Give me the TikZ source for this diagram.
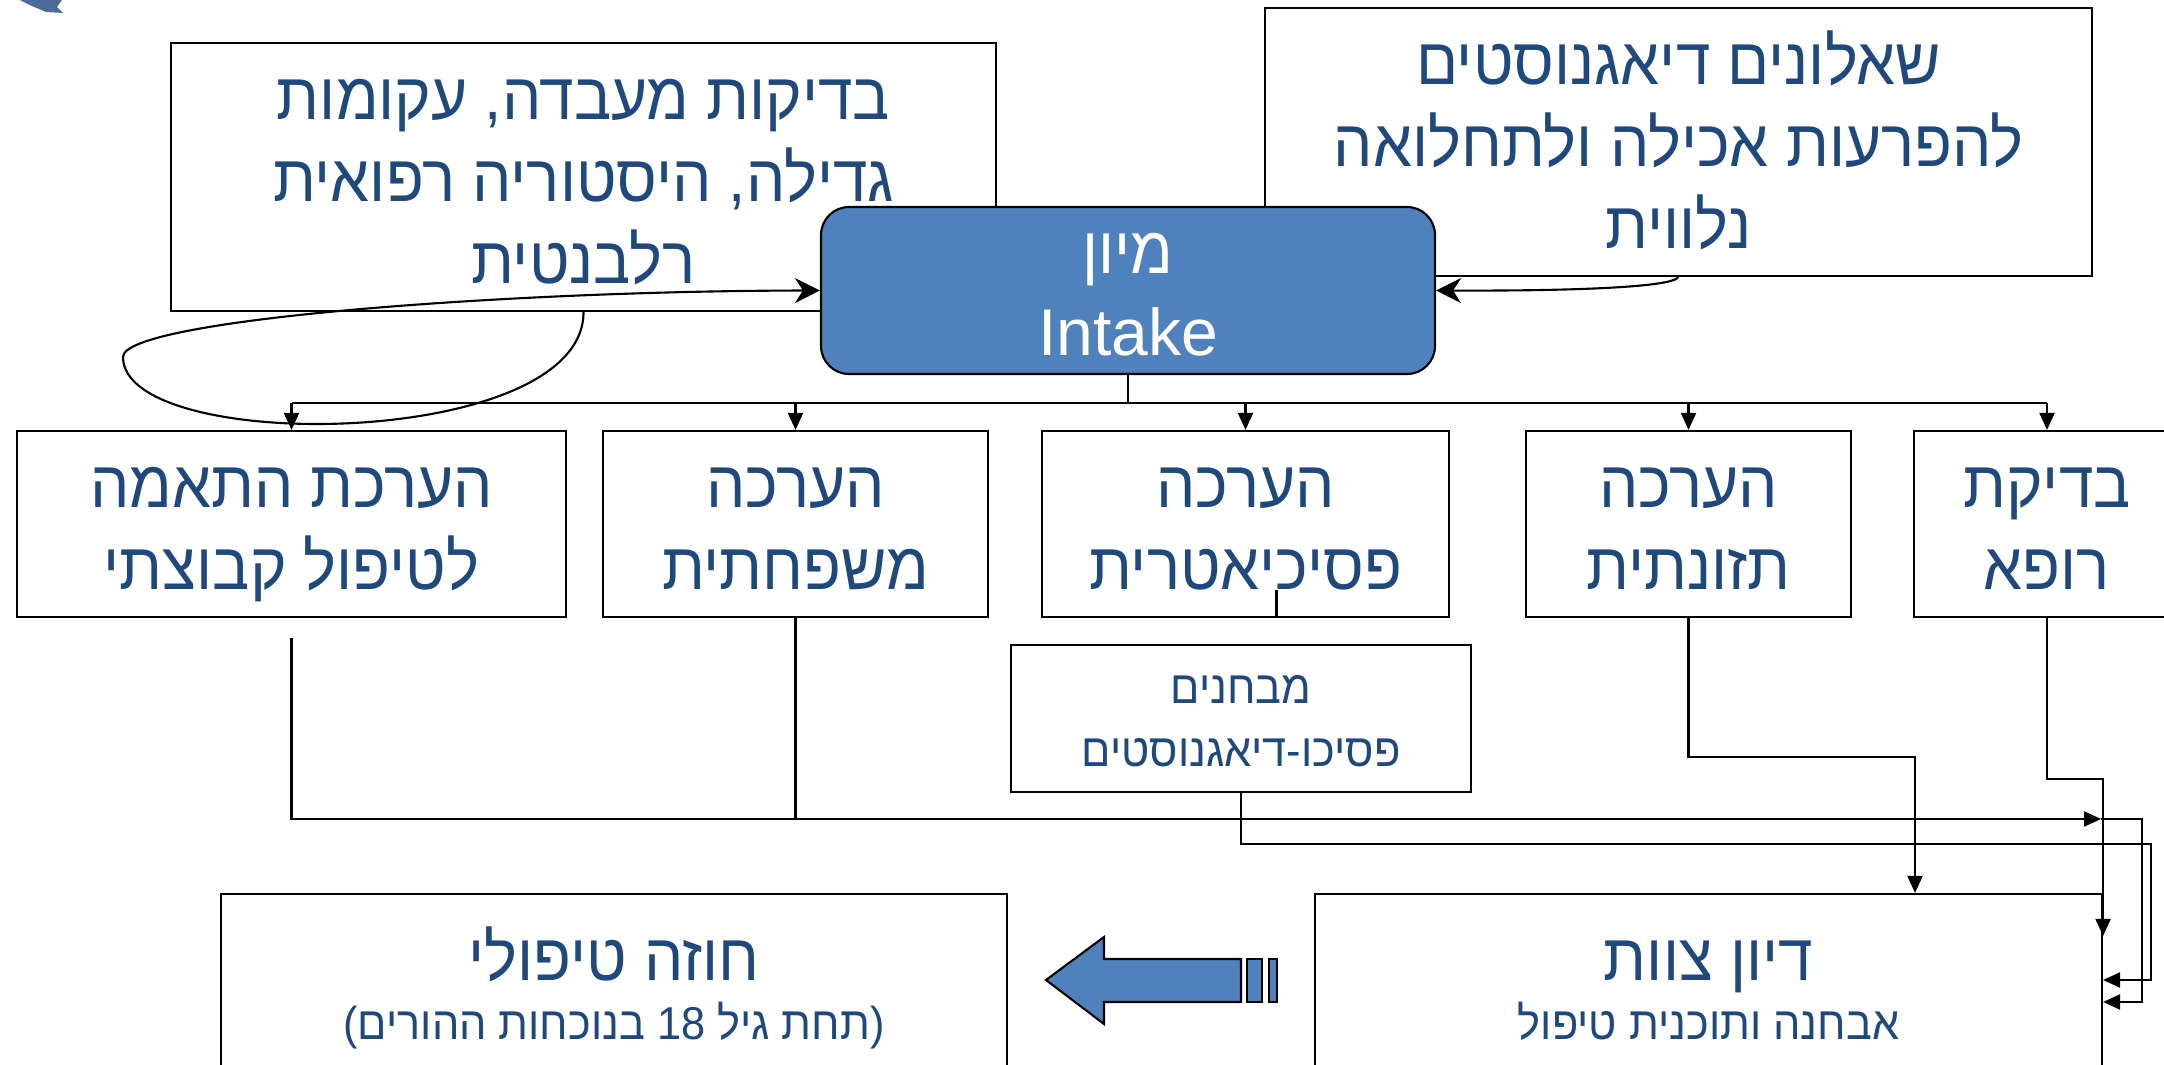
\documentclass[tikz,border=0pt]{standalone}
\usepackage{fontspec}
\setmainfont{Liberation Sans}
\newfontfamily\hebfont[Script=Hebrew,FakeStretch=0.94]{Liberation Sans}
\TeXXeTstate=1
\usetikzlibrary{arrows.meta}
\definecolor{hebblue}{RGB}{31,73,125}
\definecolor{fillblue}{RGB}{79,129,189}
\newcommand\hebline[1]{\raisebox{0pt}[0.73em][0pt]{\beginR #1\endR}}
\newcommand\bigfont{\hebfont\fontsize{18.8}{23.3}\selectfont}
\newcommand\smallfont{\hebfont\fontsize{13.1}{17.9}\selectfont}

\begin{document}
\begin{tikzpicture}[x=0.1mm, y=0.1mm, line width=0.6pt,
    >={Triangle[length=1.7mm,width=1.5mm]},
    box/.style={draw, fill=white, text=hebblue, align=center, inner sep=0pt, font=\bigfont},
    smallbox/.style={box, font=\smallfont},
    intakebox/.style={draw, fill=fillblue, text=white, align=center, inner sep=0pt,
      rounded corners=2.8mm, font=\bigfont},
    feed/.style={-{Stealth[length=2.5mm,width=2.5mm,inset=0.8mm]}}]
  \useasboundingbox (0,0) rectangle (2164,-1065);
  % logo fragment
  \fill[hebblue!80] (20,0) .. controls (30,-6) and (40,-9) .. (46,-12) -- (63,-13) -- (57,-7) -- (62,0) -- cycle;

  % sources of the intake
  \node[box, minimum width=82.5mm, minimum height=26.8mm] (lab) at (583.5,-177)
    {\hebline{בדיקות מעבדה, עקומות}\\\hebline{גדילה, היסטוריה רפואית}\\\hebline{רלבנטית}};
  \node[box, minimum width=82.7mm, minimum height=26.8mm] (quest) at (1678.5,-142)
    {\hebline{שאלונים דיאגנוסטים}\\\hebline{להפרעות אכילה ולתחלואה}\\\hebline{נלווית}};
  \node[intakebox, minimum width=61.4mm, minimum height=16.7mm] (intake) at (1128,-290.5)
    {\hebline{מיון}\\{\rmfamily Intake}};
  \coordinate (loop) at (123,-357);
  \draw[feed] (lab.south) .. controls (584,-450) and (123,-455) .. (loop)
    .. controls (123,-320) and (500,-291) .. (intake.west);
  \draw[feed] (quest.south) .. controls (1672,-288) and (1560,-291) .. (intake.east);

  % assessments
  \node[box, minimum width=54.9mm, minimum height=18.6mm] (grp) at (291.5,-524)
    {\hebline{הערכת התאמה}\\\hebline{לטיפול קבוצתי}};
  \node[box, minimum width=38.5mm, minimum height=18.6mm] (fam) at (795.5,-524)
    {\hebline{הערכה}\\\hebline{משפחתית}};
  \node[box, minimum width=40.7mm, minimum height=18.6mm] (psy) at (1245.5,-524)
    {\hebline{הערכה}\\\hebline{פסיכיאטרית}};
  \node[box, minimum width=32.5mm, minimum height=18.6mm] (nut) at (1688.5,-524)
    {\hebline{הערכה}\\\hebline{תזונתית}};
  \node[box, minimum width=26.6mm, minimum height=18.6mm] (doc) at (2047,-524)
    {\hebline{בדיקת}\\\hebline{רופא}};
  \node[smallbox, minimum width=46mm, minimum height=14.7mm] (tests) at (1241,-718.5)
    {\hebline{מבחנים}\\\hebline{פסיכו-דיאגנוסטים}};

  \draw (intake.south) -- ++(0,-28) coordinate (bus);
  \draw (grp.north |- bus) -- (doc.north |- bus);
  \foreach \n in {grp,fam,psy,nut,doc}
    \draw[->] (\n.north |- bus) -- (\n.north);
  \draw ([xshift=3.1mm]psy.south) -- ++(0,28);

  % outcome
  \node[box, minimum width=78.6mm, minimum height=18.3mm] (contract) at (614,-985.5)
    {\hebline{חוזה טיפולי}\\[-6.5pt]{\smallfont\hebline{(תחת גיל 18 בנוכחות ההורים)}}};
  \node[box, minimum width=78.7mm, minimum height=18.3mm] (team) at (1708.5,-985.5)
    {\hebline{דיון צוות}\\[-6.5pt]{\smallfont\hebline{אבחנה ותוכנית טיפול}}};

  \coordinate (meet) at (2101,-819);
  \draw[->] ([yshift=-2mm]grp.south) |- (meet);
  \draw (fam.south) -- (fam.south |- meet);
  \draw[->] (meet) -- ++(41,0) |- ([yshift=-1.65mm]team.east);
  \draw[->] (tests.south) -- ++(0,-51) -- ++(910,0) |- ([yshift=0.55mm]team.east);
  \draw[->] (nut.south) -- ++(0,-139) -| ([xshift=20.65mm]team.north);
  \draw[->] (doc.south) -- ++(0,-161) -| ([yshift=-4.3mm]team.north east);

  % block arrow
  \filldraw[fill=fillblue] (1046,-980) -- (1104,-937) -- (1104,-959) -- (1241,-959)
    -- (1241,-1002) -- (1104,-1002) -- (1104,-1024) -- cycle;
  \filldraw[fill=fillblue] (1247,-959) rectangle (1262,-1002);
  \filldraw[fill=fillblue] (1269,-959) rectangle (1277,-1002);
\end{tikzpicture}
\end{document}
